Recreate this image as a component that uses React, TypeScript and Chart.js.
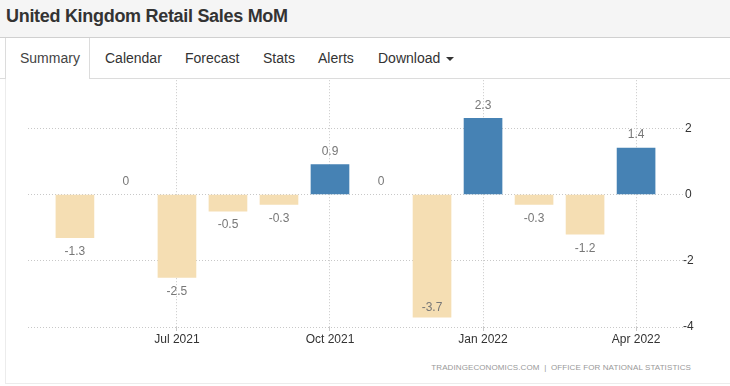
import React, { useEffect, useRef } from "react";
import { Chart, registerables } from "chart.js";

Chart.register(...registerables);

const months = [
  "May 2021", "Jun 2021", "Jul 2021", "Aug 2021", "Sep 2021", "Oct 2021",
  "Nov 2021", "Dec 2021", "Jan 2022", "Feb 2022", "Mar 2022", "Apr 2022",
];
const values = [-1.3, 0, -2.5, -0.5, -0.3, 0.9, 0, -3.7, 2.3, -0.3, -1.2, 1.4];
const xTickMonths = ["Jul 2021", "Oct 2021", "Jan 2022", "Apr 2022"];
const yTicks = [-4, -2, 0, 2];
const tabs = ["Summary", "Calendar", "Forecast", "Stats", "Alerts", "Download"];
const tabLefts = [20, 105, 185, 263, 318, 378];

const FONT = "'Liberation Sans', Arial, sans-serif";
const POS = "#4682b4";
const NEG = "#f5deb3";

const labelPlugin = {
  id: "barLabels",
  afterDatasetsDraw(chart: any) {
    const meta = chart.getDatasetMeta(0);
    const ctx = chart.ctx;
    const area = chart.chartArea;
    ctx.save();
    ctx.font = `12px ${FONT}`;
    ctx.fillStyle = "#777";
    ctx.textAlign = "center";
    ctx.textBaseline = "middle";
    meta.data.forEach((bar: any, i: number) => {
      const v = values[i];
      let y: number;
      if (v >= 0) {
        y = bar.y - 13;
      } else {
        y = bar.y + 14;
        if (y + 6 > area.bottom) y = bar.y - 9;
      }
      ctx.fillText(String(v), bar.x, y);
    });
    ctx.restore();
  },
};

export default function App() {
  const ref = useRef<HTMLCanvasElement | null>(null);

  useEffect(() => {
    document.body.style.margin = "0";
    if (!ref.current) return;
    const chart = new Chart(ref.current, {
      type: "bar",
      data: {
        datasets: [
          {
            data: values.map((v, i) => ({ x: i, y: v })),
            backgroundColor: values.map((v) => (v > 0 ? POS : v < 0 ? NEG : "rgba(0,0,0,0)")),
            barThickness: 38,
          } as any,
        ],
      },
      plugins: [labelPlugin],
      options: {
        animation: false,
        responsive: false,
        layout: { padding: { left: 28, right: 27, top: 0, bottom: 11 } },
        plugins: {
          legend: { display: false },
          tooltip: { enabled: false },
          title: { display: false },
        },
        scales: {
          x: {
            type: "linear",
            min: -0.92,
            max: 11.92,
            offset: false,
            afterBuildTicks: (s: any) => {
              s.ticks = xTickMonths.map((m) => ({ value: months.indexOf(m) }));
            },
            afterFit: (s: any) => {
              s.height = 20;
            },
            grid: {
              offset: false,
              color: "#c8c8c8",
              lineWidth: 1,
              tickLength: 4,
              drawTicks: true,
            } as any,
            border: { display: false, dash: [1, 2] },
            ticks: {
              padding: 1,
              color: "#333",
              font: { family: FONT, size: 12 },
              maxRotation: 0,
              autoSkip: false,
              callback: (v: any) => months[v as number] ?? "",
            },
          },
          y: {
            type: "linear",
            position: "right",
            min: -4,
            max: 3.45,
            afterBuildTicks: (s: any) => {
              s.ticks = yTicks.map((v) => ({ value: v }));
            },
            afterFit: (s: any) => {
              s.width = 20;
            },
            grid: { color: "#c8c8c8", lineWidth: 1, drawTicks: false },
            border: { display: false, dash: [1, 2] },
            ticks: {
              padding: 0,
              crossAlign: "center",
              color: "#333",
              font: { family: FONT, size: 12 },
              callback: (v: any) => String(v),
            },
          },
        },
      } as any,
    });
    return () => chart.destroy();
  }, []);

  return (
    <div style={{ position: "relative", width: 730, height: 386, fontFamily: FONT, background: "#fff", overflow: "hidden" }}>
      <div
        style={{
          position: "absolute", left: 0, top: 0, width: 730, height: 37,
          background: "#f5f5f5", borderBottom: "1px solid #d0d0d0",
        }}
      />
      <div
        style={{
          position: "absolute", left: 6, top: -2, height: 37, lineHeight: "37px",
          fontSize: 18, fontWeight: "bold", color: "#333", whiteSpace: "nowrap", letterSpacing: -0.3,
        }}
      >
        United Kingdom Retail Sales MoM
      </div>
      <div style={{ position: "absolute", left: 0, top: 78, width: 730, height: 1, background: "#dcdcdc" }} />
      <div
        style={{
          position: "absolute", left: 5, top: 38, width: 83, height: 41, background: "#fff",
          borderLeft: "1px solid #dcdcdc", borderRight: "1px solid #dcdcdc",
        }}
      />
      {tabs.map((t, i) => (
        <div
          key={t}
          style={{
            position: "absolute", left: tabLefts[i], top: 38, height: 40, lineHeight: "40px",
            fontSize: 14, color: i === 0 ? "#444" : "#333", whiteSpace: "nowrap",
          }}
        >
          {t}
          {t === "Download" ? (
            <span
              style={{
                display: "inline-block", marginLeft: 6, width: 0, height: 0, verticalAlign: "middle",
                borderLeft: "4px solid transparent", borderRight: "4px solid transparent",
                borderTop: "4px solid #333",
              }}
            />
          ) : null}
        </div>
      ))}
      <div style={{ position: "absolute", left: 5, top: 79, width: 1, height: 305, background: "#ececec" }} />
      <div style={{ position: "absolute", left: 5, top: 383, width: 725, height: 1, background: "#ececec" }} />
      <div style={{ position: "absolute", left: 0, top: 73, width: 730, height: 285 }}>
        <canvas ref={ref} width={730} height={285} style={{ display: "block" }} />
      </div>
      <div
        style={{
          position: "absolute", right: 39, top: 363, fontSize: 8, color: "#999",
          whiteSpace: "nowrap", letterSpacing: 0.1,
        }}
      >
        TRADINGECONOMICS.COM&nbsp;&nbsp;|&nbsp;&nbsp;OFFICE FOR NATIONAL STATISTICS
      </div>
    </div>
  );
}
